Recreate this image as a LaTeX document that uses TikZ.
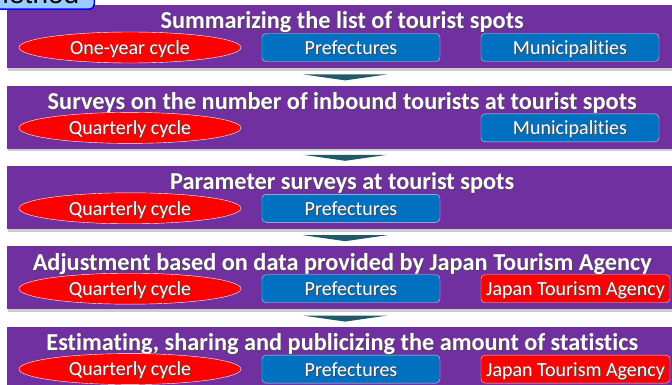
\documentclass[tikz,border=0pt]{standalone}
\usepackage{fontspec}
\setmainfont[Ligatures=NoCommon]{Carlito}
\newfontfamily\tabfont{Liberation Sans}
\usetikzlibrary{shapes,calc,positioning,shadows}
\definecolor{bandpurple}{HTML}{7030A0}
\definecolor{boxblue}{HTML}{0070C0}
\definecolor{arrowteal}{HTML}{215968}
\definecolor{tabblue}{HTML}{99CCFF}
\newcommand{\shtext}[1]{\makebox[0pt][l]{\kern1pt\raisebox{-1pt}{\color{black!70}#1}}#1}

\begin{document}
\begin{tikzpicture}[x=1pt, y=-1pt,
  band/.style={rectangle, fill=bandpurple, minimum width=670pt, minimum height=63pt, inner sep=0pt,
    anchor=north west, drop shadow={shadow xshift=1pt, shadow yshift=-2.5pt, fill=black!40}},
  bandtitle/.style={anchor=base, text=white, font=\bfseries\fontsize{24.3}{25}\selectfont},
  cyclelbl/.style={ellipse, draw=white, fill=red, minimum width=222pt, minimum height=31pt, inner sep=0pt,
    text=white, text height=13.5pt, text depth=0pt, font=\fontsize{20}{20}\selectfont},
  actor/.style={rectangle, rounded corners=4pt, draw=white!75!boxblue, fill=boxblue, minimum width=178pt,
    minimum height=28pt, inner sep=0pt, text=white, text height=14pt, text depth=0pt,
    font=\fontsize{20}{20}\selectfont},
  agency/.style={actor, fill=red, draw=white!80!red, minimum width=189pt},
  stepdown/.style={fill=arrowteal}]
  \useasboundingbox (0,0) rectangle (672,385);
  \clip (0,0) rectangle (672,385);

  \node[band] (b1) at (7,5) {};
  \node[band, below=17pt of b1] (b2) {};
  \node[band, below=17pt of b2] (b3) {};
  \node[band, below=17pt of b3] (b4) {};
  \node[band, below=17pt of b4] (b5) {};

  % arrows between the steps
  \foreach \a/\b in {b1/b2, b2/b3, b3/b4, b4/b5}
    \fill[stepdown] ($(\a.south)+(-39,6)$) -- ($(\a.south)+(45,6)$) -- ($(\a.south)+(3,12)$) -- cycle;

  \node[bandtitle] (t1) at ($(b1.north)+(0,24)$) {\shtext{Summarizing the list of tourist spots}};
  \node[cyclelbl] (c1) at ($(b1.north west)+(123,42.5)$) {\shtext{One-year cycle}};
  \node[actor] (p1) at ($(b1.north west)+(344,42.5)$) {\shtext{Prefectures}};
  \node[actor] (m1) at ($(b1.north west)+(563,42.5)$) {\shtext{Municipalities}};

  \node[bandtitle] (t2) at ($(b2.north)+(0,24)$) {\shtext{Surveys on the number of inbound tourists at tourist spots}};
  \node[cyclelbl] (c2) at ($(b2.north west)+(123,42.5)$) {\shtext{Quarterly cycle}};
  \node[actor] (m2) at ($(b2.north west)+(563,42.5)$) {\shtext{Municipalities}};

  \node[bandtitle] (t3) at ($(b3.north)+(0,24)$) {\shtext{Parameter surveys at tourist spots}};
  \node[cyclelbl] (c3) at ($(b3.north west)+(123,42.5)$) {\shtext{Quarterly cycle}};
  \node[actor] (p3) at ($(b3.north west)+(344,42.5)$) {\shtext{Prefectures}};

  \node[bandtitle] (t4) at ($(b4.north)+(0,24)$) {\shtext{Adjustment based on data provided by Japan Tourism Agency}};
  \node[cyclelbl] (c4) at ($(b4.north west)+(123,42.5)$) {\shtext{Quarterly cycle}};
  \node[actor] (p4) at ($(b4.north west)+(344,42.5)$) {\shtext{Prefectures}};
  \node[agency] (j4) at ($(b4.north west)+(568.5,42.5)$) {\shtext{Japan Tourism Agency}};

  \node[bandtitle] (t5) at ($(b5.north)+(0,24)$) {\shtext{Estimating, sharing and publicizing the amount of statistics}};
  \node[cyclelbl] (c5) at ($(b5.north west)+(123,42.5)$) {\shtext{Quarterly cycle}};
  \node[actor] (p5) at ($(b5.north west)+(344,42.5)$) {\shtext{Prefectures}};
  \node[agency] (j5) at ($(b5.north west)+(568.5,42.5)$) {\shtext{Japan Tourism Agency}};

  \node[rectangle, rounded corners=5pt, draw=blue, line width=1.5pt, fill=tabblue, anchor=south east,
    inner xsep=15pt, inner ysep=5pt, font=\tabfont\fontsize{28}{28}\selectfont] (tab) at (95,10) {Method};
\end{tikzpicture}
\end{document}
